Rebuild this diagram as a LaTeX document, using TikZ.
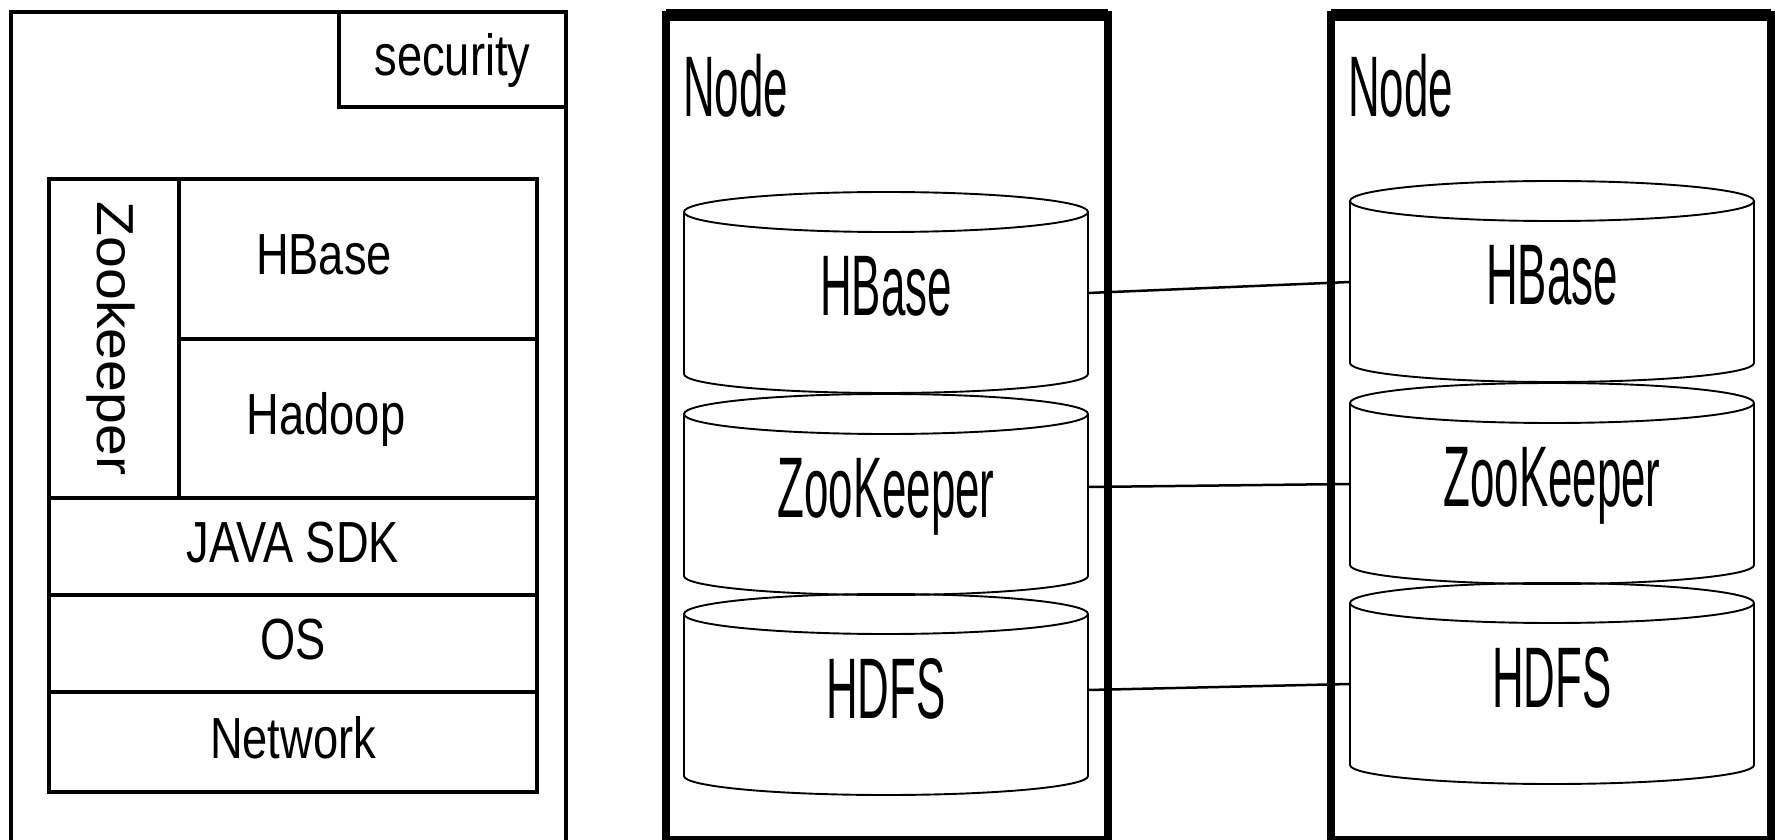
\documentclass[tikz,border=0pt]{standalone}
\usepackage{fontspec}
\setmainfont{Liberation Sans}
\newfontfamily\leftfont[FakeStretch=0.78]{Liberation Sans}
\newfontfamily\nodefont[FakeStretch=0.51]{Liberation Sans}
\newfontfamily\zkfont[FakeStretch=1.1]{Liberation Sans}
\newcommand\cylshape[1]{%
  \draw[cylline] (#1.north west) -- (#1.south west)
    arc[start angle=180,end angle=360,x radius=202pt,y radius=19pt]
    -- (#1.north east)
    arc[start angle=0,end angle=360,x radius=202pt,y radius=20pt];}
\begin{document}
\begin{tikzpicture}[x=1pt,y=1pt,
  lbox/.style={draw, line width=3.4pt, inner sep=0pt, outer sep=0pt,
    font=\leftfont\fontsize{58}{60}\selectfont, text height=42pt, text depth=10pt},
  nbox/.style={draw, line width=8pt, inner sep=0pt, outer sep=0pt},
  nlabel/.style={inner sep=0pt, anchor=base west, font=\nodefont\fontsize{86}{90}\selectfont},
  cylbody/.style={inner sep=0pt, outer sep=0pt, minimum width=404pt, minimum height=162pt,
    font=\nodefont\fontsize{86}{90}\selectfont, text height=62pt, text depth=16pt},
  cylline/.style={line width=1.9pt},
  link/.style={line width=2.5pt}]
\useasboundingbox (0,0) rectangle (1775,839);
\clip (0,0) rectangle (1775,839);
\fill[white] (0,0) rectangle (1775,839);

% ---- left panel ----
\node[lbox, minimum width=555pt, minimum height=858pt] (outer) at (288.5,398) {};
\node[lbox, minimum width=227pt, minimum height=95pt] (sec) at (452.5,779.5) {security};
\node[lbox, rotate=-90, minimum width=319pt, minimum height=130pt,
  font=\zkfont\fontsize{52}{54}\selectfont, text height=37pt, text depth=4pt]
  (zkcol) at (114,500.5) {Zookeeper};
\node[lbox, minimum width=358pt, minimum height=160pt] (lhb) at (358,580) {HBase\hspace*{68pt}};
\node[lbox, minimum width=358pt, minimum height=159pt] (lhd) at (358,420.5) {Hadoop\hspace*{64pt}};
\node[lbox, minimum width=488pt, minimum height=97pt] (java) at (293,292.5) {JAVA SDK};
\node[lbox, minimum width=488pt, minimum height=97pt] (os) at (293,195.5) {OS};
\node[lbox, minimum width=488pt, minimum height=100pt] (net) at (293,97) {Network};

% ---- node boxes ----
\node[nbox, minimum width=442pt, minimum height=825pt] (box1) at (887,411.5) {};
\draw[line width=12pt] (box1.north west) -- (box1.north east);
\node[nbox, minimum width=440pt, minimum height=825pt] (box2) at (1551,411.5) {};
\draw[line width=12pt] (box2.north west) -- (box2.north east);
\node[nlabel] (lab1) at (683,722) {Node};
\node[nlabel] (lab2) at (1348,722) {Node};

% ---- cylinders ----
\node[cylbody] (hb1) at (886,546) {HBase};
\node[cylbody] (zk1) at (886,344) {ZooKeeper};
\node[cylbody] (hd1) at (886,144) {HDFS};
\node[cylbody] (hb2) at (1552,557) {HBase};
\node[cylbody] (zk2) at (1552,355) {ZooKeeper};
\node[cylbody] (hd2) at (1552,155) {HDFS};
\cylshape{hb1}\cylshape{zk1}\cylshape{hd1}
\cylshape{hb2}\cylshape{zk2}\cylshape{hd2}

% ---- connectors ----
\draw[link] (hb1.east) -- (hb2.west);
\draw[link] ([yshift=8pt]zk1.east) -- (zk2.west);
\draw[link] ([yshift=5pt]hd1.east) -- (hd2.west);
\end{tikzpicture}
\end{document}
